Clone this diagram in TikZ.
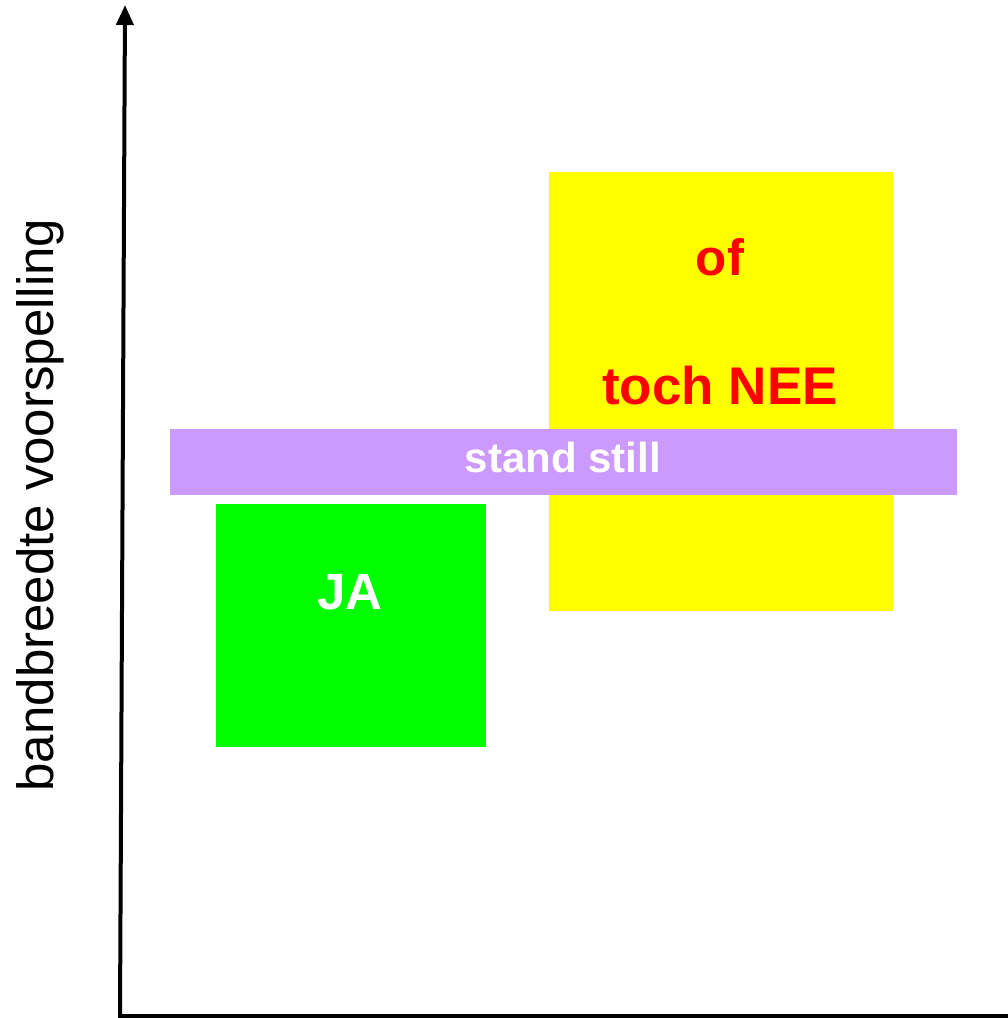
\documentclass[tikz,border=0pt]{standalone}
\usepackage{fontspec}
\setmainfont{Liberation Sans}
\usetikzlibrary{arrows.meta}
\definecolor{lila}{HTML}{CC99FF}
\definecolor{groen}{HTML}{00FF00}
\definecolor{geel}{HTML}{FFFF00}
\definecolor{rood}{HTML}{FF0000}
\tikzset{
  box/.style={draw=none, inner sep=0pt, outer sep=0pt},
  boldtxt/.style={font=\bfseries, inner sep=0pt},
  axis/.style={line width=4pt, black},
}
\begin{document}
\begin{tikzpicture}[x=1pt,y=-1pt]
\useasboundingbox (0,0) rectangle (1008,1018);
% boxes
\node[box, fill=geel, minimum width=344pt, minimum height=439pt, anchor=north west] (yel) at (549,172) {};
\node[box, fill=lila, minimum width=787pt, minimum height=66pt, anchor=north west] (pur) at (170,429) {};
\node[box, fill=groen, minimum width=270pt, minimum height=243pt, anchor=north west] (grn) at (216,504) {};
% texts
\node[boldtxt, text=rood, font=\fontsize{51}{51}\bfseries, anchor=base] (of) at (720,275) {of};
\node[boldtxt, text=rood, font=\fontsize{53}{53}\bfseries, anchor=base] (toch) at (720,404) {toch NEE};
\node[boldtxt, text=white, font=\fontsize{42}{42}\bfseries, anchor=base] (ss) at (563,472) {stand still};
\node[boldtxt, text=white, font=\fontsize{51}{51}\bfseries, anchor=base] (ja) at (350,609) {JA};
% axes
\coordinate (o) at (120,1016);
\coordinate (top) at (125,5);
\coordinate (right) at (1008,1016);
\draw[axis, -{Triangle[width=17pt,length=20pt]}] ([yshift=1.5pt]o) -- (top);
\draw[line width=3.5pt] ([xshift=-2pt]o) -- (right);
% label
\node[rotate=90, font=\fontsize{51}{51}\selectfont, inner sep=0pt, anchor=base] (lab) at (53,505) {bandbreedte voorspelling};
\end{tikzpicture}
\end{document}
